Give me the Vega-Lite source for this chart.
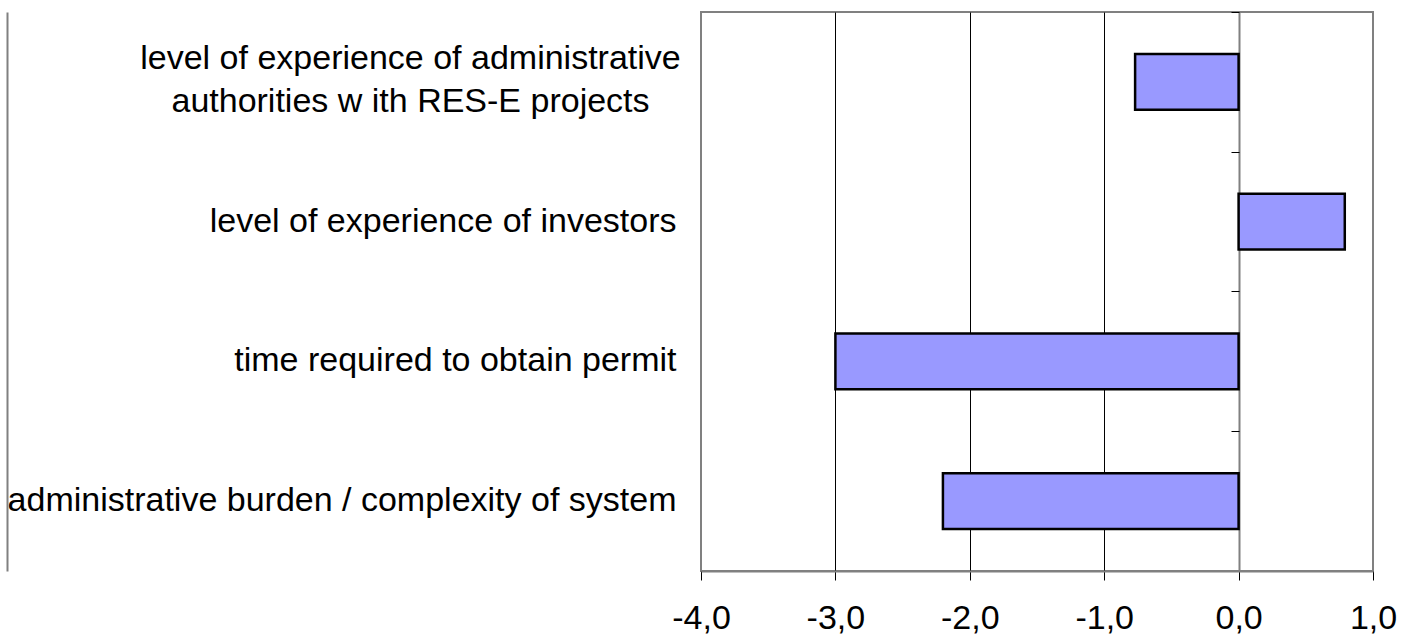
{
  "$schema": "https://vega.github.io/schema/vega-lite/v6.json",
  "autosize": "none",
  "width": 672,
  "height": 559,
  "padding": {"left": 701, "top": 12, "right": 29, "bottom": 64},
  "background": "white",
  "config": {
    "view": {"stroke": "#808080", "strokeWidth": 2},
    "font": "Liberation Sans"
  },
  "data": {
    "values": [
      {"factor": "level of experience of administrative|authorities w ith RES-E projects", "value": -0.77},
      {"factor": "level of experience of investors", "value": 0.79},
      {"factor": "time required to obtain permit", "value": -3.0},
      {"factor": "administrative burden / complexity of system", "value": -2.2}
    ]
  },
  "resolve": {"axis": {"y": "independent"}},
  "layer": [
    {
      "mark": {"type": "bar", "fill": "#9999FF", "stroke": "black", "strokeWidth": 2.5},
      "encoding": {
        "x": {
          "field": "value", "type": "quantitative",
          "scale": {"domain": [-4, 1], "nice": false, "zero": false},
          "axis": {
            "title": null,
            "values": [-4, -3, -2, -1, 0, 1],
            "labelExpr": "replace(replace(format(datum.value, '.1f'), '.', ','), '−', '-')",
            "labelFont": "Liberation Sans",
            "labelFontSize": 34,
            "labelColor": "black",
            "labelPadding": 21,
            "labelFlush": false,
            "labelOverlap": false,
            "domainColor": "#808080",
            "domainWidth": 2,
            "tickColor": "black",
            "tickWidth": 1,
            "tickSize": 9,
            "grid": true,
            "gridColor": {
              "condition": [
                {"test": "datum.value == 0", "value": "#808080"},
                {"test": "datum.value == -4 || datum.value == 1", "value": "transparent"}
              ],
              "value": "black"
            },
            "gridWidth": {"condition": {"test": "datum.value == 0", "value": 2}, "value": 1},
            "gridOpacity": 1
          }
        },
        "y": {
          "field": "factor", "type": "nominal", "sort": null,
          "scale": {"paddingInner": 0.6, "paddingOuter": 0.3},
          "axis": {
            "orient": "left",
            "title": null,
            "ticks": false,
            "domain": false,
            "labelExpr": "split(datum.value, '|')",
            "labelFont": "Liberation Sans",
            "labelFontSize": 34,
            "labelColor": "black",
            "labelLimit": 1000,
            "labelLineHeight": 43,
            "labelAlign": {"condition": {"test": "indexof(datum.value, '|') >= 0", "value": "center"}, "value": "right"},
            "labelPadding": {"condition": {"test": "indexof(datum.value, '|') >= 0", "value": 291}, "value": 25},
            "labelOffset": {"condition": {"test": "indexof(datum.value, '|') >= 0", "value": -23}, "value": 0}
          }
        }
      }
    },
    {
      "mark": {"type": "bar", "fillOpacity": 0, "strokeOpacity": 0},
      "encoding": {
        "x": {"field": "value", "type": "quantitative"},
        "y": {
          "field": "factor", "type": "nominal", "sort": null,
          "axis": {
            "orient": "left",
            "title": null,
            "labels": false,
            "domain": false,
            "ticks": true,
            "bandPosition": 0,
            "tickOffset": -42,
            "tickSize": 8,
            "tickColor": "black",
            "tickWidth": 1,
            "offset": -538
          }
        }
      }
    },
    {
      "mark": {"type": "bar", "fillOpacity": 0, "strokeOpacity": 0},
      "encoding": {
        "x": {"field": "value", "type": "quantitative"},
        "y": {
          "field": "factor", "type": "nominal", "sort": null,
          "axis": {
            "orient": "left",
            "title": null,
            "labels": false,
            "ticks": false,
            "domain": true,
            "domainColor": "#808080",
            "domainWidth": 2,
            "offset": 694
          }
        }
      }
    }
  ]
}
